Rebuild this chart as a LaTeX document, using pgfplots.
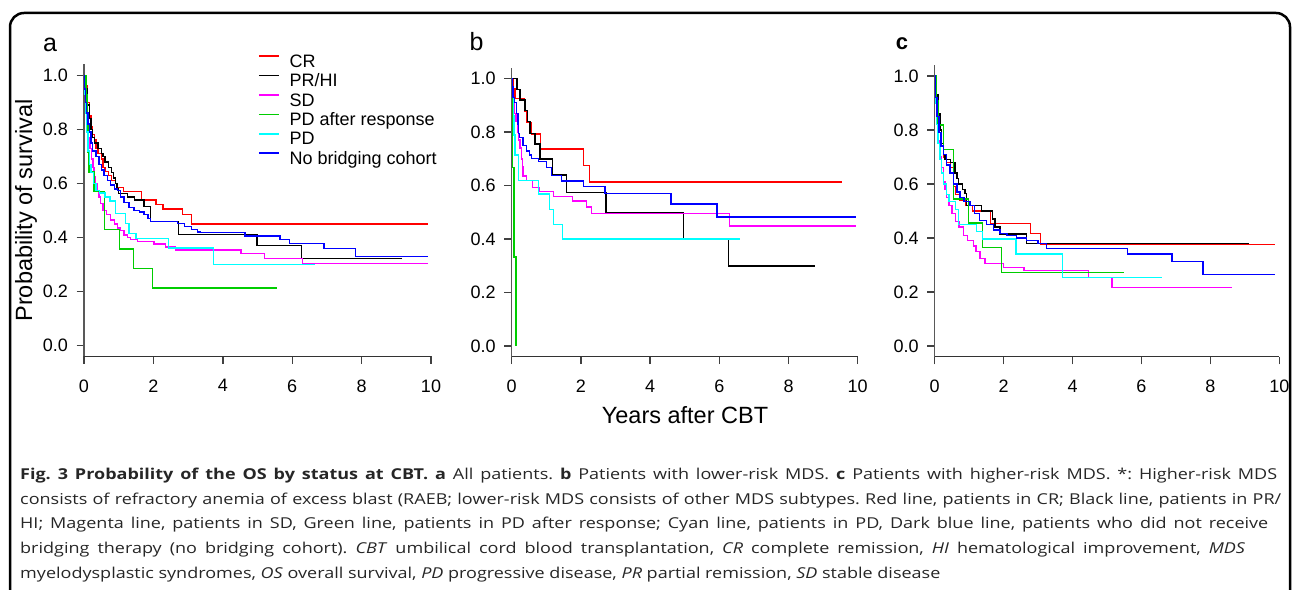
\documentclass[border=0pt]{standalone}
\usepackage{fontspec}
\setmainfont{Liberation Sans}
\newfontfamily\capfont{Open Sans}[FakeStretch=1.2]
\usepackage{pgfplots}
\pgfplotsset{compat=1.18}
\definecolor{kmgreen}{RGB}{0,205,0}
\definecolor{kmcyan}{RGB}{0,255,255}
\definecolor{kmmag}{RGB}{255,0,255}
\definecolor{kmred}{RGB}{255,0,0}
\definecolor{kmblue}{RGB}{0,0,255}
\pgfplotsset{
  kmaxis/.style={
    scale only axis, anchor=south west,
    xmin=0, xmax=10, ymin=-0.04, ymax=1.04,
    axis x line=bottom, axis y line=left,
    x axis line style={-, line width=1.2pt, black!80},
    y axis line style={-, line width=1.2pt, black!65},
    xtick={0,2,4,6,8,10}, ytick={0,0.2,0.4,0.6,0.8,1.0},
    yticklabel style={xshift=-5pt, /pgf/number format/.cd, fixed, fixed zerofill, precision=1},
    xticklabel style={yshift=-12pt},
    /pgf/number format/assume math mode=true,
    tick align=outside, major tick length=7.5pt,
    major tick style={draw=black!75, line width=1.4pt},
    tick label style={font=\fontsize{18}{20}\selectfont},
    every axis plot/.append style={const plot, line width=1.4pt},
  }
}
\begin{document}
\begin{tikzpicture}
\path[use as bounding box] (0pt,0pt) rectangle (1292pt,589pt);
\draw[line width=2.5pt, rounded corners=14pt] (10pt,-10pt) -- (10pt,576pt) -- (1290pt,576pt) -- (1290pt,-10pt);

% ---------------- panel a
\begin{axis}[kmaxis, at={(84pt,232.5pt)}, width=347pt, height=292pt,
  legend style={at={(axis cs:5.014,1.078)}, anchor=north west, draw=none, fill=none,
    inner sep=0pt, outer sep=0pt, row sep=2.4pt, column sep=10pt,
    font=\fontsize{18}{20}\selectfont,
    nodes={inner sep=0pt, text height=13pt, text depth=4pt}},
  legend cell align=left,
  legend image code/.code={\draw[#1, line width=1.6pt] (0pt,6.5pt) -- (20pt,6.5pt);},
]
\addplot[kmred] coordinates {(0,1) (0.05,0.96) (0.1,0.9) (0.15,0.85) (0.2,0.81) (0.25,0.78) (0.3,0.76) (0.35,0.73) (0.4,0.71) (0.5,0.69) (0.55,0.66) (0.6,0.645) (0.7,0.63) (0.8,0.61) (0.9,0.6) (0.96,0.586) (1.13,0.57) (1.65,0.539) (2.07,0.523) (2.28,0.506) (2.83,0.485) (3.1,0.45) (9.92,0.45)};
\addlegendentry{CR}
\addplot[black] coordinates {(0,1) (0.05,0.95) (0.1,0.89) (0.15,0.84) (0.2,0.8) (0.25,0.77) (0.3,0.75) (0.4,0.73) (0.5,0.71) (0.55,0.7) (0.6,0.68) (0.7,0.66) (0.8,0.64) (0.85,0.62) (0.9,0.6) (0.95,0.58) (1.0,0.563) (1.25,0.55) (1.45,0.539) (1.73,0.514) (1.92,0.459) (2.72,0.412) (4.98,0.37) (6.27,0.323) (9.17,0.323)};
\addlegendentry{PR/HI}
\addplot[kmmag] coordinates {(0,1) (0.02,0.93) (0.05,0.87) (0.08,0.82) (0.12,0.77) (0.17,0.73) (0.22,0.69) (0.26,0.66) (0.29,0.625) (0.34,0.6) (0.38,0.575) (0.43,0.55) (0.48,0.525) (0.55,0.5) (0.65,0.485) (0.77,0.465) (0.88,0.45) (0.96,0.435) (1.05,0.425) (1.15,0.41) (1.25,0.4) (1.34,0.392) (1.54,0.385) (2.02,0.376) (2.35,0.365) (2.63,0.354) (4.52,0.342) (5.2,0.323) (6.3,0.305) (9.92,0.305)};
\addlegendentry{SD}
\addplot[kmgreen] coordinates {(0,1) (0.06,0.929) (0.09,0.857) (0.11,0.786) (0.12,0.714) (0.14,0.643) (0.29,0.571) (0.585,0.429) (1.02,0.357) (1.42,0.286) (1.98,0.214) (5.55,0.214)};
\addlegendentry{PD after response}
\addplot[kmcyan] coordinates {(0,1) (0.02,0.93) (0.05,0.86) (0.08,0.79) (0.11,0.72) (0.15,0.67) (0.2,0.64) (0.27,0.6) (0.35,0.575) (0.45,0.565) (0.6,0.55) (0.75,0.535) (0.9,0.49) (1.2,0.453) (1.3,0.415) (1.5,0.397) (2.43,0.362) (3.73,0.3) (6.66,0.3)};
\addlegendentry{PD}
\addplot[kmblue] coordinates {(0,1) (0.02,0.95) (0.05,0.9) (0.08,0.86) (0.12,0.82) (0.15,0.79) (0.2,0.75) (0.25,0.72) (0.35,0.7) (0.43,0.67) (0.5,0.65) (0.58,0.63) (0.68,0.61) (0.77,0.595) (0.88,0.58) (0.96,0.573) (1.05,0.55) (1.15,0.53) (1.3,0.51) (1.44,0.5) (1.6,0.495) (1.73,0.485) (1.85,0.47) (1.92,0.459) (2.69,0.452) (2.9,0.44) (3.1,0.43) (3.27,0.42) (3.35,0.418) (4.64,0.406) (5.65,0.393) (5.92,0.379) (6.92,0.36) (7.83,0.329) (9.92,0.329)};
\addlegendentry{No bridging cohort}
\end{axis}

% ---------------- panel b
\begin{axis}[kmaxis, at={(511.7pt,232.3pt)}, width=346pt, height=288.7pt]
\addplot[kmred] coordinates {(0,1) (0.04,0.963) (0.09,0.926) (0.375,0.877) (0.44,0.837) (0.57,0.793) (0.84,0.737) (2.08,0.675) (2.25,0.613) (9.54,0.613)};
\addplot[black] coordinates {(0,1) (0.15,0.96) (0.24,0.92) (0.385,0.88) (0.45,0.84) (0.53,0.795) (0.67,0.755) (0.82,0.7) (1.18,0.64) (1.59,0.575) (2.73,0.5) (4.96,0.4) (6.27,0.3) (8.78,0.3)};
\addplot[kmmag] coordinates {(0,1) (0.02,0.95) (0.05,0.91) (0.086,0.87) (0.12,0.84) (0.16,0.8) (0.2,0.77) (0.24,0.74) (0.28,0.7) (0.31,0.67) (0.33,0.636) (0.42,0.62) (0.6,0.594) (0.8,0.577) (1.21,0.559) (1.76,0.542) (2.17,0.52) (2.3,0.496) (6.29,0.449) (9.94,0.449)};
\addplot[kmgreen] coordinates {(0,1) (0.03,0.667) (0.065,0.333) (0.12,0)};
\addplot[kmcyan] coordinates {(0,1) (0.03,0.93) (0.05,0.86) (0.07,0.79) (0.09,0.715) (0.19,0.62) (0.77,0.569) (1.1,0.511) (1.2,0.455) (1.46,0.4) (6.6,0.4)};
\addplot[kmblue] coordinates {(0,1) (0.02,0.97) (0.04,0.93) (0.08,0.91) (0.13,0.87) (0.18,0.83) (0.2,0.795) (0.23,0.78) (0.33,0.75) (0.42,0.73) (0.52,0.715) (0.57,0.702) (0.77,0.69) (1.0,0.668) (1.15,0.637) (1.44,0.617) (2.07,0.596) (2.7,0.571) (4.6,0.531) (5.93,0.482) (9.94,0.482)};
\end{axis}

% ---------------- panel c
\begin{axis}[kmaxis, at={(934.7pt,232.2pt)}, width=344.6pt, height=291.6pt]
\addplot[kmred] coordinates {(0,1) (0.03,0.95) (0.06,0.91) (0.1,0.86) (0.15,0.8) (0.2,0.75) (0.25,0.7) (0.35,0.68) (0.45,0.66) (0.54,0.59) (0.6,0.56) (0.73,0.54) (0.9,0.52) (1.1,0.5) (1.62,0.453) (2.78,0.417) (3.07,0.377) (9.87,0.377)};
\addplot[black] coordinates {(0,1) (0.05,0.93) (0.1,0.86) (0.15,0.8) (0.2,0.75) (0.25,0.71) (0.3,0.69) (0.45,0.68) (0.59,0.64) (0.65,0.62) (0.69,0.6) (0.8,0.58) (0.88,0.565) (0.93,0.52) (1.36,0.5) (1.68,0.47) (1.75,0.44) (1.9,0.415) (2.67,0.38) (9.12,0.38)};
\addplot[kmmag] coordinates {(0,1) (0.02,0.93) (0.05,0.87) (0.08,0.81) (0.11,0.76) (0.15,0.7) (0.2,0.66) (0.25,0.61) (0.3,0.58) (0.35,0.55) (0.42,0.52) (0.5,0.49) (0.6,0.46) (0.7,0.44) (0.83,0.41) (0.95,0.39) (1.12,0.37) (1.2,0.35) (1.31,0.325) (1.46,0.305) (1.99,0.29) (2.59,0.279) (4.46,0.254) (5.15,0.217) (8.62,0.217)};
\addplot[kmgreen] coordinates {(0,1) (0.06,0.909) (0.1,0.818) (0.25,0.727) (0.54,0.545) (0.98,0.455) (1.39,0.364) (1.94,0.273) (5.5,0.273)};
\addplot[kmcyan] coordinates {(0,1) (0.03,0.9) (0.06,0.82) (0.1,0.75) (0.15,0.69) (0.2,0.64) (0.25,0.6) (0.35,0.56) (0.42,0.535) (0.6,0.505) (0.69,0.45) (1.22,0.423) (1.39,0.396) (2.36,0.341) (3.7,0.254) (6.61,0.254)};
\addplot[kmblue] coordinates {(0,1) (0.03,0.92) (0.07,0.85) (0.12,0.79) (0.18,0.74) (0.25,0.71) (0.35,0.67) (0.44,0.64) (0.55,0.6) (0.65,0.57) (0.73,0.55) (0.85,0.535) (1.02,0.52) (1.15,0.49) (1.3,0.465) (1.51,0.45) (1.7,0.43) (1.89,0.417) (2.1,0.41) (2.38,0.4) (2.67,0.39) (3.0,0.38) (3.25,0.362) (5.59,0.34) (6.88,0.312) (7.78,0.265) (9.87,0.265)};
\end{axis}

% labels
\node[anchor=base, font=\fontsize{25}{28}\selectfont] at (50pt,537pt) {a};
\node[anchor=base, font=\fontsize{25}{28}\selectfont] at (476.5pt,538pt) {b};
\node[anchor=base, font=\fontsize{22}{26}\selectfont\bfseries] at (902pt,539pt) {c};
\node[rotate=90, font=\fontsize{23.5}{26}\selectfont] at (26pt,378.5pt) {Probability of survival};
\node[anchor=base, font=\fontsize{23.5}{26}\selectfont] at (685pt,165.2pt) {Years after CBT};

% caption
\begin{scope}[every node/.style={anchor=base west, inner sep=0pt, text=black!85, font=\capfont\fontsize{15}{18}\selectfont\frenchspacing}]
\node at (20pt,109pt) {\makebox[1257pt][s]{\textbf{Fig. 3 Probability of the OS by status at CBT. a} All patients. \textbf{b} Patients with lower-risk MDS. \textbf{c} Patients with higher-risk MDS. *: Higher-risk MDS}};
\node at (20pt,84.5pt) {\makebox[1261pt][s]{consists of refractory anemia of excess blast (RAEB; lower-risk MDS consists of other MDS subtypes. Red line, patients in CR; Black line, patients in PR/}};
\node at (20pt,60pt) {\makebox[1248pt][s]{HI; Magenta line, patients in SD, Green line, patients in PD after response; Cyan line, patients in PD, Dark blue line, patients who did not receive}};
\node at (20pt,35.5pt) {\makebox[1225pt][s]{bridging therapy (no bridging cohort). \textit{CBT} umbilical cord blood transplantation, \textit{CR} complete remission, \textit{HI} hematological improvement, \textit{MDS}}};
\node at (20pt,11pt) {myelodysplastic syndromes, \textit{OS} overall survival, \textit{PD} progressive disease, \textit{PR} partial remission, \textit{SD} stable disease};
\end{scope}
\end{tikzpicture}
\end{document}
